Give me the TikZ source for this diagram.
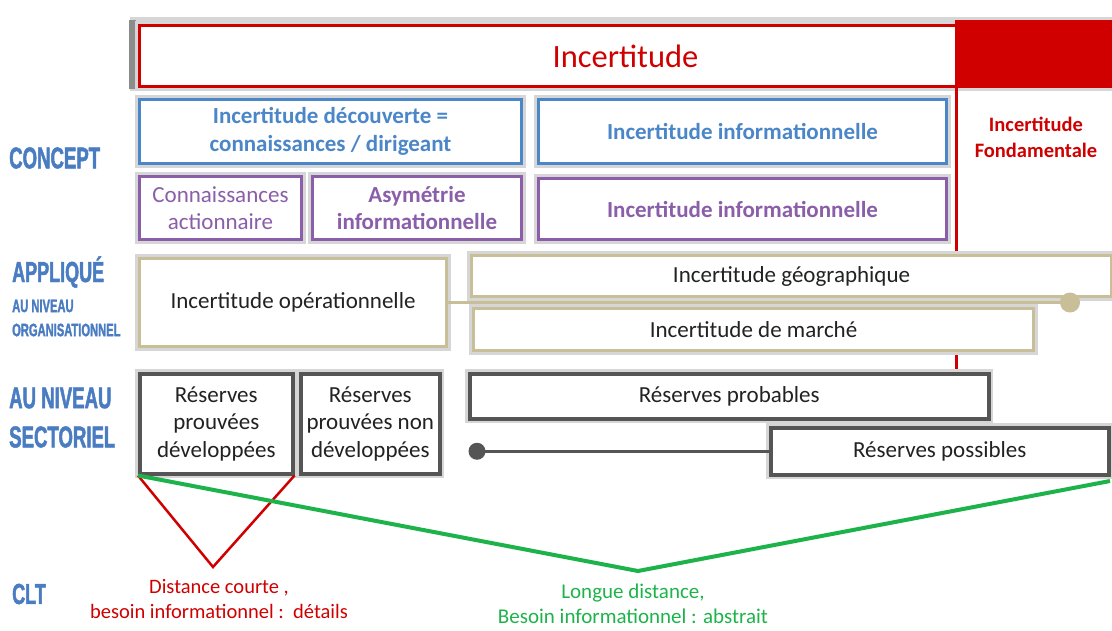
\documentclass[tikz,border=0pt]{standalone}
\usepackage{fontspec}
\setmainfont{Carlito}
\newfontfamily\lblfont[FakeStretch=0.62, BoldFeatures={FakeStretch=0.62, FakeBold=1.6}]{Liberation Sans}
\usetikzlibrary{positioning}
\definecolor{cred}{HTML}{D00000}
\definecolor{cblue}{HTML}{4A86C8}
\definecolor{lblue}{HTML}{4A7CC2}
\definecolor{cpurp}{HTML}{8A5EA8}
\definecolor{ctan}{HTML}{C8BE98}
\definecolor{cgray}{HTML}{555555}
\definecolor{cgreen}{HTML}{1DB34A}
\definecolor{ctext}{HTML}{222222}
\tikzset{
  box/.style={draw, line width=3pt, fill=white, inner sep=0pt, align=center,
    anchor=north west, font=\fontsize{23}{27.5}\selectfont,
    preaction={draw=black!16, line width=9pt}},
  bluebox/.style={box, draw=cblue, text=cblue, font=\bfseries\fontsize{23}{28}\selectfont},
  purpbox/.style={box, draw=cpurp, text=cpurp},
  tanbox/.style={box, draw=ctan, text=ctext},
  graybox/.style={box, draw=cgray, line width=3.5pt, text=ctext},
  lbl/.style={anchor=west, text=lblue, inner sep=0pt},
  dot/.style={circle, inner sep=0pt}
}
\begin{document}
\begin{tikzpicture}[x=1pt,y=-1pt]
\useasboundingbox (0,0) rectangle (1112,630);
% shadow of the top box
\fill[black!16] (130,17) rectangle (1112,91);
\fill[black!45] (129,20) rectangle (136,89);
% top box
\node[box, draw=cred, text=cred, minimum width=972pt, minimum height=61pt,
  font=\fontsize{32.5}{36}\selectfont, preaction={}] (inc) at (138,24) {Incertitude};
\fill[cred] (955,20) rectangle (1112,86);
% red vertical line
\draw[cred, line width=3pt] (956,86) -- (956,470);
\node[text=cred, align=center, font=\bfseries\fontsize{20.5}{26}\selectfont] (fond) at (1036,137) {Incertitude\\Fondamentale};
% concept rows
\node[bluebox, minimum width=382pt, minimum height=64pt] (dec) at (138,98) {Incertitude découverte =\\connaissances / dirigeant};
\node[bluebox, minimum width=408pt, minimum height=64pt] (info1) at (537,98) {Incertitude informationnelle};
\node[purpbox, minimum width=162pt, minimum height=63pt] (conn) at (138,175) {Connaissances\\actionnaire};
\node[purpbox, minimum width=209pt, minimum height=63pt, font=\bfseries\fontsize{23}{27.5}\selectfont] (asym) at (311,175) {Asymétrie\\informationnelle};
\node[purpbox, minimum width=408pt, minimum height=61pt, font=\bfseries\fontsize{23}{27.5}\selectfont] (info2) at (537,177) {Incertitude informationnelle};
% applied rows
\node[tanbox, minimum width=307pt, minimum height=88pt] (oper) at (138,257) {Incertitude opérationnelle};
\node[tanbox, minimum width=640pt, minimum height=41pt] (geo) at (470,254) {Incertitude géographique};
\node[tanbox, minimum width=560pt, minimum height=42pt] (marche) at (472,307) {Incertitude de marché};
\node[dot, fill=ctan, minimum size=20pt] (tandot) at (1070,302.5) {};
\draw[ctan, line width=2.5pt] (oper.east) -- (tandot.center);
% sector rows
\node[graybox, minimum width=153pt, minimum height=100pt] (rpd) at (138,372) {Réserves\\prouvées\\développées};
\node[graybox, minimum width=139pt, minimum height=100pt] (rpnd) at (299,372) {Réserves\\prouvées non\\développées};
\node[graybox, minimum width=519pt, minimum height=45pt] (prob) at (468,372) {Réserves probables};
\node[graybox, minimum width=338pt, minimum height=47pt] (poss) at (769,426) {Réserves possibles};
\node[dot, fill=cgray, minimum size=17pt] (graydot) at (477,451.25) {};
\draw[cgray, line width=3pt] (graydot.center) -- (poss.west);
% CLT lines
\coordinate (rv) at (213,567);
\coordinate (gv) at (638,571);
\coordinate (gend) at (1110,481);
\draw[cred, line width=2.5pt, line join=miter] (rpd.south west) -- (rv) -- (rpd.south east);
\draw[cgreen, line width=4pt, line join=miter] (rpd.south west) -- (gv) -- (gend);
\node[text=cred, align=center, font=\fontsize{20.5}{24.5}\selectfont] (short) at (219,599) {Distance courte ,\\besoin informationnel :~~détails};
\node[text=cgreen, align=center, font=\fontsize{21}{25}\selectfont] (long) at (633,604) {Longue distance,\\Besoin informationnel : abstrait};
% left labels
\node[lbl, font=\lblfont\bfseries\fontsize{30}{30}\selectfont] (concept) at (9,158) {CONCEPT};
\node[lbl, font=\lblfont\bfseries\fontsize{29}{29}\selectfont] (applique) at (12,272) {APPLIQUÉ};
\node[lbl, font=\lblfont\bfseries\fontsize{18}{18}\selectfont] (auniv1) at (12,306) {AU NIVEAU};
\node[lbl, font=\lblfont\bfseries\fontsize{18}{18}\selectfont] (orga) at (12,330) {ORGANISATIONNEL};
\node[lbl, font=\lblfont\bfseries\fontsize{30}{30}\selectfont] (auniv2) at (9,398) {AU NIVEAU};
\node[lbl, font=\lblfont\bfseries\fontsize{30}{30}\selectfont] (secto) at (9,437) {SECTORIEL};
\node[lbl, font=\lblfont\bfseries\fontsize{29}{29}\selectfont] (clt) at (12,594) {CLT};
\end{tikzpicture}
\end{document}
